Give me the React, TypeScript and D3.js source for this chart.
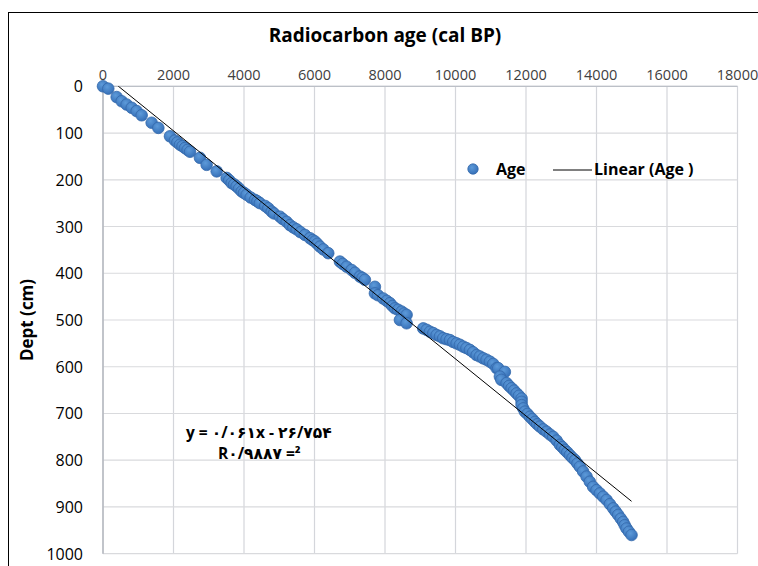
import React from "react";
import * as d3 from "d3";

const ages = [
  0, 150, 388, 530, 670, 815, 955, 1097, 1380, 1570, 1900, 2040, 2110, 2185, 2255, 2325, 2400, 2470,
  2750, 2940, 3225, 3508, 3580, 3650, 3720, 3790, 3860, 3935, 4000, 4075, 4190, 4310, 4380, 4450,
  4600, 4688, 4785, 4850, 5020, 5100, 5210, 5303, 5400, 5494, 5600, 5729, 5871, 5950, 6013, 6080,
  6154, 6250, 6390, 6721, 6800, 6911, 7053, 7150, 7289, 7360, 7430, 7714, 7714, 7800,
  7949, 8050, 8140, 8210, 8281, 8370, 8471, 8540, 8613, 8423, 8613,
  9084, 9180, 9274, 9370, 9464, 9560, 9651, 9745, 9841, 9935, 10031, 10125, 10218, 10310,
  10408, 10500, 10599, 10690, 10786, 10880, 10976, 11070, 11166, 11211, 11401, 11259, 11300,
  11449, 11520, 11591, 11660, 11733, 11800, 11875, 11875, 11875, 11920, 11968, 12040, 12110,
  12180, 12252, 12320, 12394, 12490, 12584, 12680, 12771, 12870, 12961, 13030, 13100, 13170,
  13244, 13320, 13390, 13460, 13528, 13620, 13718, 13810, 13905, 14000, 14095, 14190, 14285,
  14380, 14474, 14545, 14615, 14690, 14757, 14800, 14852, 14920, 14994,
];
const depths = [
  0, 5, 23, 32, 39, 46, 53, 62, 78, 89, 107, 116, 120, 125, 128, 132, 136, 140,
  153, 168, 182, 196, 201, 207, 210, 214, 219, 225, 228, 232, 238, 243, 246, 250,
  256, 261, 268, 272, 279, 284, 290, 297, 302, 306, 312, 318, 325, 329, 332, 337,
  343, 349, 357, 375, 380, 386, 393, 399, 407, 410, 414, 429, 443, 447,
  454, 459, 464, 470, 475, 478, 482, 486, 489, 500, 507,
  518, 521, 525, 528, 532, 535, 539, 541, 543, 547, 550, 553, 557, 560,
  564, 569, 575, 578, 582, 585, 589, 594, 603, 603, 611, 621, 628,
  635, 641, 646, 651, 657, 662, 668, 675, 682, 689, 696, 701, 707,
  712, 718, 723, 728, 734, 739, 745, 750, 758, 767, 772, 778, 783,
  789, 795, 800, 807, 814, 824, 835, 846, 857, 864, 871, 878, 885,
  894, 903, 910, 917, 925, 932, 939, 946, 953, 960,
];
const xTicks = [0, 2000, 4000, 6000, 8000, 10000, 12000, 14000, 16000, 18000];
const yTicks = [0, 100, 200, 300, 400, 500, 600, 700, 800, 900, 1000];
const slope = 0.061;
const intercept = -26.754;
const titleText = "Radiocarbon  age (cal BP)";
const yTitle = "Dept (cm)";
const eqLine1 = "y = ۰/۰۶۱x - ۲۶/۷۵۴";
const eqLine2 = "R۰/۹۸۸۷ =²";
const legendAge = "Age";
const legendLinear = "Linear (Age )";

const W = 758;
const H = 566;
const FONT = "'Open Sans', 'DejaVu Sans', sans-serif";

export default function App() {
  const x = d3.scaleLinear().domain([0, 18000]).range([103, 737.5]);
  const y = d3.scaleLinear().domain([0, 1000]).range([86.3, 553.7]);
  const pts = ages.map((a, i) => [a, depths[i]] as [number, number]);
  const xmin = d3.min(ages) as number;
  const xmax = d3.max(ages) as number;
  const trend = d3.line<number>()
    .x((a) => x(a))
    .y((a) => y(slope * a + intercept))([xmin, xmax]) as string;

  return (
    <svg width={W} height={H} style={{ position: "absolute", left: 0, top: 0, background: "#fff" }}>
      <defs>
        <radialGradient id="mk" cx="40%" cy="35%" r="65%">
          <stop offset="0%" stopColor="#5d9ad9" />
          <stop offset="100%" stopColor="#3670b8" />
        </radialGradient>
        <clipPath id="plot">
          <rect x={103} y={86.3} width={634.5} height={467.4} />
        </clipPath>
      </defs>
      <rect x={8.5} y={12.5} width={800} height={600} fill="#fff" stroke="#000" strokeWidth={1} />
      {xTicks.map((t) => (
        <line key={"gx" + t} x1={x(t)} x2={x(t)} y1={y(0)} y2={y(1000)} stroke="#d4d6db" strokeWidth={1.2} />
      ))}
      {yTicks.map((t) => (
        <line key={"gy" + t} x1={x(0)} x2={x(18000)} y1={y(t)} y2={y(t)} stroke="#d9dadd" strokeWidth={1.2} />
      ))}
      <line x1={x(0)} x2={x(0)} y1={y(0)} y2={y(1000)} stroke="#a8adb6" strokeWidth={1.2} />
      <line x1={x(0)} x2={x(18000)} y1={y(0)} y2={y(0)} stroke="#bcc0c7" strokeWidth={1.2} />
      {xTicks.map((t) => (
        <text key={"tx" + t} x={x(t)} y={80} textAnchor="middle" fontFamily={FONT} fontSize={14.5} fill="#404040">
          {t}
        </text>
      ))}
      {yTicks.map((t) => (
        <text key={"ty" + t} x={83} y={y(t) + 6} textAnchor="end" fontFamily={FONT} fontSize={16} fill="#000">
          {t}
        </text>
      ))}
      <text x={385} y={42} textAnchor="middle" fontFamily={FONT} fontWeight="bold" fontSize={19} fill="#000">
        {titleText}
      </text>
      <text transform={`translate(33,320) rotate(-90)`} textAnchor="middle" fontFamily={FONT} fontWeight="bold" fontSize={17} fill="#000">
        {yTitle}
      </text>
      <g>
        {pts.map((p, i) => (
          <circle key={i} cx={x(p[0])} cy={y(p[1])} r={5.8} fill="url(#mk)" stroke="#3468ab" strokeWidth={0.8} />
        ))}
      </g>
      <path d={trend} stroke="#000" strokeWidth={1} fill="none" clipPath="url(#plot)" />
      <circle cx={473} cy={169} r={5.2} fill="url(#mk)" stroke="#3468ab" strokeWidth={0.8} />
      <text x={496} y={175} fontFamily={FONT} fontWeight="bold" fontSize={16} fill="#000">{legendAge}</text>
      <line x1={553} x2={592} y1={170} y2={170} stroke="#000" strokeWidth={1} />
      <text x={594} y={175} fontFamily={FONT} fontWeight="bold" fontSize={16} fill="#000">{legendLinear}</text>
      <text x={186} y={438} fontFamily={FONT} fontWeight="bold" fontSize={15.5} fill="#000">{eqLine1}</text>
      <text x={218} y={459} fontFamily={FONT} fontWeight="bold" fontSize={15.5} fill="#000">{eqLine2}</text>
    </svg>
  );
}
